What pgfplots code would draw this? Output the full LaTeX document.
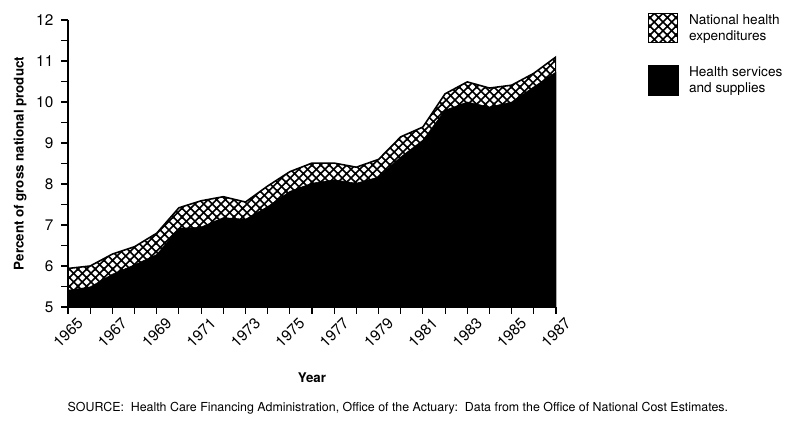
\documentclass[border=0pt]{standalone}
\usepackage{fontspec}
\setmainfont{TeX Gyre Heros}
\usepackage{pgfplots}
\usepackage{pgfplotstable}
\pgfplotsset{compat=1.18}
\usetikzlibrary{patterns}

% diagonal cross-hatch (diamonds), as in the printed figure
\pgfdeclarepatternformonly{diamonds}{\pgfqpoint{-1pt}{-1pt}}{\pgfqpoint{7.5pt}{7.5pt}}{\pgfqpoint{6.5pt}{6.5pt}}{%
  \pgfsetlinewidth{1.2pt}%
  \pgfpathmoveto{\pgfqpoint{-1pt}{-1pt}}\pgfpathlineto{\pgfqpoint{7.5pt}{7.5pt}}%
  \pgfpathmoveto{\pgfqpoint{-1pt}{7.5pt}}\pgfpathlineto{\pgfqpoint{7.5pt}{-1pt}}%
  \pgfusepath{stroke}}

% percent of GNP: national health expenditures / health services and supplies
\pgfplotstableread{
year  nhe    hss
1965  5.94   5.41
1966  6.00   5.49
1967  6.29   5.80
1968  6.47   6.03
1969  6.80   6.28
1970  7.42   6.92
1971  7.59   6.95
1972  7.69   7.18
1973  7.56   7.14
1974  7.95   7.45
1975  8.30   7.82
1976  8.51   8.02
1977  8.51   8.10
1978  8.41   8.02
1979  8.60   8.17
1980  9.15   8.66
1981  9.39   9.07
1982  10.20  9.80
1983  10.49  10.00
1984  10.34  9.88
1985  10.41  10.00
1986  10.70  10.37
1987  11.10  10.73
}\gnp

\newcommand\tenpt{\fontsize{10.2}{12}\selectfont}

\begin{document}
\begin{tikzpicture}
\useasboundingbox (0,0) rectangle (595.5pt,318.75pt);

\begin{axis}[
    at={(51pt,88.5pt)}, anchor=south west,
    scale only axis,
    width=366pt, height=215.25pt,
    xmin=1965, xmax=1987,
    ymin=5, ymax=12,
    clip mode=individual,
    axis x line*=bottom, axis y line*=left,
    axis line style={line width=0.8pt, -},
    tick style={line width=0.8pt, black},
    tick align=outside,
    major tick length=5pt, minor tick length=5pt,
    xtick={1965,1967,...,1987},
    minor xtick={1966,1968,...,1986},
    xticklabels={1965,1967,1969,1971,1973,1975,1977,1979,1981,1983,1985,1987},
    ytick={5,...,12},
    minor ytick={5.5,6.5,...,11.5},
    /pgf/number format/assume math mode=true,
    tick label style={font=\fontsize{11.5}{13}\selectfont},
    xticklabel style={rotate=45, anchor=east, inner sep=1pt, xshift=4pt, yshift=-10pt},
    yticklabel style={xshift=-2.5pt},
    xlabel={\bfseries Year},
    ylabel={\bfseries Percent of gross national product},
    label style={font=\fontsize{10.6}{12}\selectfont},
    every axis x label/.style={at={(axis description cs:0.5,-0.247)}, anchor=center},
    every axis y label/.style={at={(axis description cs:-0.098,0.5)}, anchor=center, rotate=90},
    legend image code/.code={\draw[#1] (0pt,-11pt) rectangle (22pt,11pt);},
    legend cell align=left,
    legend style={at={(axis description cs:1.188,1.03)}, anchor=north west,
                  draw=none, fill=none, inner sep=0pt, row sep=14pt,
                  column sep=6pt, font=\tenpt, cells={align=left}},
]

\addplot[draw=black, line width=1.2pt, pattern=diamonds, pattern color=black, forget plot]
    table[x=year, y=nhe] {\gnp} \closedcycle;
\addplot[draw=black, fill=black, line width=0.4pt, forget plot]
    table[x=year, y=hss] {\gnp} \closedcycle;

\addlegendimage{draw=black, line width=0.8pt, pattern=diamonds, pattern color=black}
\addlegendentry{National health\\expenditures}
\addlegendimage{draw=black, fill=black}
\addlegendentry{Health services\\and supplies}

\node[font=\fontsize{9.3}{11}\selectfont] at (axis description cs:0.676,-0.352)
    {SOURCE:\ \ Health Care Financing Administration, Office of the Actuary:\ \ Data from the Office of National Cost Estimates.};

\end{axis}
\end{tikzpicture}
\end{document}
